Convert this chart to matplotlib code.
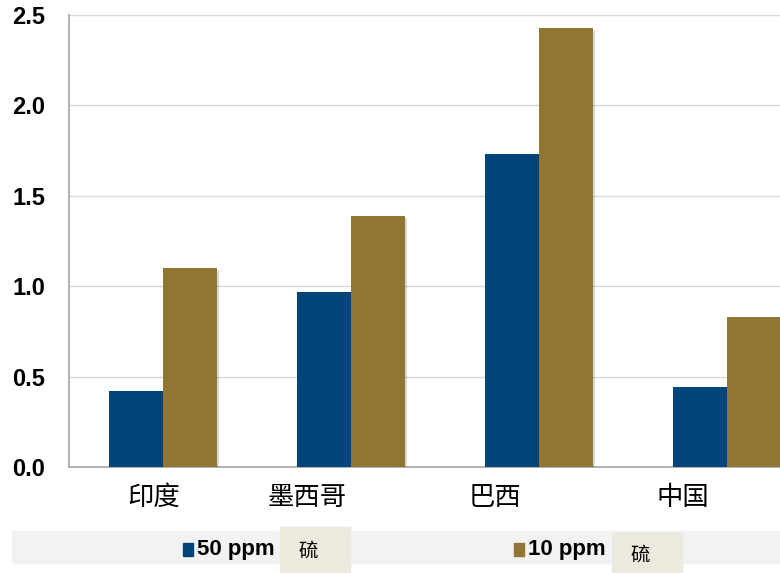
import numpy as np
import matplotlib.pyplot as plt
import matplotlib.patches as mpatches
import matplotlib.patheffects as pe

plt.rcParams['font.family'] = ['Liberation Sans', 'DejaVu Sans']

categories = ['印度', '墨西哥', '巴西', '中国']
ppm50 = [0.42, 0.97, 1.73, 0.44]
ppm10 = [1.10, 1.39, 2.43, 0.83]
series_names = ['50 ppm', '10 ppm']
unit_label = '硫'
yticks = [0.0, 0.5, 1.0, 1.5, 2.0, 2.5]

blue = '#00457a'
gold = '#927533'
cjk = ['Noto Sans CJK SC', 'DejaVu Sans']

W, H = 780, 573
fig = plt.figure(figsize=(W / 100, H / 100), dpi=100)

# axes extends a little past the right edge of the canvas
left, right, top, bottom = 69, 821, 15, 467
ax = fig.add_axes([left / W, 1 - bottom / H, (right - left) / W, (bottom - top) / H])

x = np.arange(len(categories))
bw = 0.287
shadow = [pe.SimplePatchShadow(offset=(1.5, -1.5), shadow_rgbFace='#000000', alpha=0.15), pe.Normal()]
b1 = ax.bar(x - bw / 2, ppm50, width=bw, color=blue, zorder=3)
b2 = ax.bar(x + bw / 2, ppm10, width=bw, color=gold, zorder=3)
for b in list(b1) + list(b2):
    b.set_path_effects(shadow)

ax.set_xlim(-0.5, len(categories) - 0.5)
ax.set_ylim(0, 2.5)
ax.set_yticks(yticks)
ax.set_yticklabels([f'{v:.1f}' for v in yticks], fontsize=17, fontweight='bold')
ax.yaxis.grid(True, color='#d9d9d9', linewidth=1, zorder=0)
ax.set_axisbelow(True)
ax.tick_params(axis='y', length=0, pad=17)
ax.tick_params(axis='x', length=0, pad=12)

# category labels sit slightly left of each group centre
label_offsets = [-0.05, -0.234, -0.234, -0.234]
ax.set_xticks(x + np.array(label_offsets))
ax.set_xticklabels(categories, fontsize=19, family=cjk)

for s in ['top', 'right']:
    ax.spines[s].set_visible(False)
for s in ['left', 'bottom']:
    ax.spines[s].set_color('#a6a6a6')
    ax.spines[s].set_linewidth(1.2)

# legend band
def fx(px):
    return px / W

def fy(py):
    return 1 - py / H

fig.patches.append(mpatches.Rectangle((fx(12), fy(563)), fx(780 - 12), (563 - 531) / H,
                                      transform=fig.transFigure, color='#f2f2f2', zorder=0))
legend_items = [
    (183, 280, 527, 572, blue),
    (514, 612, 533, 573, gold),
]
for (sq_x, box_x, box_y0, box_y1, col), name in zip(legend_items, series_names):
    fig.patches.append(mpatches.Rectangle((fx(sq_x), fy(556)), 10 / W, 13 / H,
                                          transform=fig.transFigure, color=col, zorder=2))
    fig.text(fx(sq_x + 14), fy(550), name, fontsize=16, fontweight='bold',
             va='center', ha='left')
    fig.patches.append(mpatches.Rectangle((fx(box_x), fy(box_y1)), 70 / W, (box_y1 - box_y0) / H,
                                          transform=fig.transFigure, color='#ece9df', zorder=1))
    fig.text(fx(box_x + 28), fy((box_y0 + box_y1) / 2 + 2), unit_label, fontsize=14,
             family=cjk, va='center', ha='center', zorder=3)

fig.savefig('out.png', dpi=100)
